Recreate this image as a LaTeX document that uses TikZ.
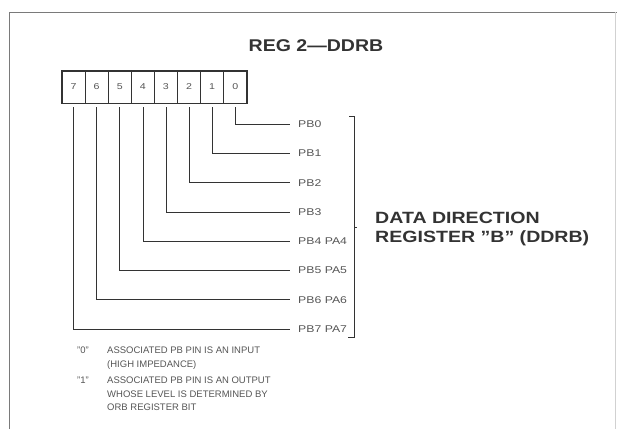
\documentclass[tikz,border=0pt]{standalone}
\usepackage{fontspec}
\setmainfont{Liberation Sans}
\newfontfamily\titlefont[FakeStretch=1.15]{Liberation Sans}
\newfontfamily\bigfont[FakeStretch=1.2]{Liberation Sans}
\newfontfamily\pinfont[FakeStretch=1.25]{Liberation Sans}
\definecolor{ink}{HTML}{333333}
\definecolor{softink}{HTML}{555555}
\definecolor{frameink}{HTML}{7A7A7A}
\tikzset{
  cell/.style={draw=ink, line width=0.7pt, minimum width=23.1pt, minimum height=32pt, inner sep=0pt, font=\pinfont\fontsize{8.5}{9}\selectfont, text=softink},
  pinlabel/.style={anchor=west, inner sep=0pt, font=\pinfont\fontsize{9.8}{11}\selectfont, text=softink},
  wire/.style={draw=ink, line width=0.7pt},
  legend/.style={anchor=north west, inner sep=0pt, align=left, font=\fontsize{9.5}{13.5}\selectfont, text=softink},
  bigtext/.style={inner sep=0pt, font=\bigfont\bfseries\fontsize{16.3}{18}\selectfont, text=ink, anchor=west}
}
\begin{document}
\begin{tikzpicture}[x=1pt,y=-1pt]
\useasboundingbox (0,0) rectangle (617,429);
% frame
\draw[frameink, line width=0.9pt] (9,429) -- (9,12) -- (617,12);
\draw[black!18, line width=0.5pt] (615,12) -- (615,429);
% title
\node[inner sep=0pt, font=\titlefont\bfseries\fontsize{17}{19}\selectfont, text=ink] (title) at (316,46) {REG 2\textemdash DDRB};
% register cells
\foreach \b [count=\k from 0] in {7,6,5,4,3,2,1,0}{
  \node[cell] (c\b) at ({62+23.1*(\k+0.5)},87) {\b};
}
\draw[ink, line width=1.1pt] (c7.north west) rectangle (c0.south east);
% pin labels
\node[pinlabel] (l0) at (298,124.0) {PB0};
\node[pinlabel] (l1) at (298,153.3) {PB1};
\node[pinlabel] (l2) at (298,182.6) {PB2};
\node[pinlabel] (l3) at (298,211.9) {PB3};
\node[pinlabel] (l4) at (298,241.2) {PB4 PA4};
\node[pinlabel] (l5) at (298,270.5) {PB5 PA5};
\node[pinlabel] (l6) at (298,299.8) {PB6 PA6};
\node[pinlabel] (l7) at (298,329.1) {PB7 PA7};
% connectors
\foreach \b in {0,...,7}{
  \draw[wire, shorten <=4pt] (c\b.south) |- ([xshift=-8pt]l\b.west);
}
% bracket
\coordinate (bt) at (354,116);
\coordinate (bb) at (354,337);
\coordinate (bm) at (354,227);
\draw[wire] ([xshift=-5pt]bt) -- (bt) -- (bb) -- ([xshift=-6pt]bb);
\draw[wire] (bm) -- ([xshift=2.5pt]bm);
% description
\node[bigtext] (dd1) at (375,218) {DATA DIRECTION};
\node[bigtext] (dd2) at (375,238) {REGISTER \textquotedblright B\textquotedblright\ (DDRB)};
% legend
\node[legend] (k0) at (77,347) {\textquotedblright0\textquotedblright};
\node[legend] (t0) at (107,347) {ASSOCIATED PB PIN IS AN INPUT\\(HIGH IMPEDANCE)};
\node[legend] (k1) at (77,377) {\textquotedblright1\textquotedblright};
\node[legend] (t1) at (107,377) {ASSOCIATED PB PIN IS AN OUTPUT\\WHOSE LEVEL IS DETERMINED BY\\ORB REGISTER BIT};
\end{tikzpicture}
\end{document}
